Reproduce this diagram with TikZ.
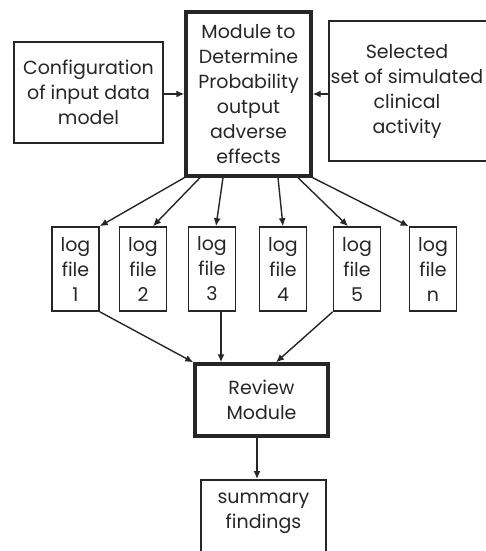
\documentclass[tikz,border=0pt]{standalone}
\usepackage{fontspec}
\setmainfont{Poppins}
\usetikzlibrary{arrows.meta}
\begin{document}
\begin{tikzpicture}[x=1pt,y=-1pt,
  every node/.style={font=\fontsize{19}{25}\selectfont, text=black!85},
  box/.style={draw=black!85, line width=1.6pt, align=center, inner sep=0pt},
  heavybox/.style={box, line width=3.4pt},
  logbox/.style={box, minimum width=47pt, minimum height=84pt},
  arr/.style={draw=black!85, line width=1.4pt, -{Latex[length=8pt,width=7pt]}}]
\useasboundingbox (0,0) rectangle (486,551);
\clip (0,0) rectangle (486,551);

% input and process boxes
\node[heavybox, minimum width=125pt, minimum height=164pt] (main) at (248.5,94)
  {Module to\\Determine\\Probability\\output\\adverse\\effects};
\node[box, minimum width=149pt, minimum height=101pt] (cfg) at (88.5,92.5)
  {Configuration\\of input data\\model};
\node[box, minimum width=170pt, minimum height=140pt] (sel) at (414,91) {};
\node[align=center, inner sep=0pt] (seltext) at (407,91)
  {Selected\\set of simulated\\clinical\\activity};

% log files
\node[logbox] (log1) at (75.5,269) {log\\file\\1};
\node[logbox] (log2) at (143,269) {log\\file\\2};
\node[logbox] (log3) at (212,269) {log\\file\\3};
\node[logbox] (log4) at (283,269) {log\\file\\4};
\node[logbox] (log5) at (357,269) {log\\file\\5};
\node[logbox] (logn) at (433,269) {log\\file\\n};

% review and summary
\node[heavybox, minimum width=133pt, minimum height=72pt] (review) at (261.5,400)
  {Review\\Module};
\node[box, minimum width=125pt, minimum height=100pt, anchor=north] (summary) at (263.5,479) {};
\node[align=center, inner sep=0pt] (summarytext) at (263.5,513) {summary\\findings};

% connectors
\draw[arr] (cfg.east |- main.west) -- (main.west);
\draw[arr] (sel.west |- main.east) -- (main.east);

\draw[arr] (main.south west) -- (log1.north east);
\draw[arr] ([xshift=-48.5pt]main.south) -- ([xshift=10pt]log2.north);
\draw[arr] ([xshift=-25.5pt]main.south) -- ([xshift=4pt]log3.north);
\draw[arr] ([xshift=29.5pt]main.south) -- (log4.north);
\draw[arr] ([xshift=49.5pt]main.south) -- ([xshift=-9pt]log5.north);
\draw[arr] (main.south east) -- (logn.north west);

\draw[arr] (log1.south east) -- (review.north west);
\draw[arr] ([xshift=9pt]log3.south) -- ([xshift=9pt]log3.south |- review.north);
\draw[arr] (log5.south west) -- ([xshift=14.5pt]review.north);

\draw[arr] ([xshift=-4.5pt]review.south) -- ([xshift=-4.5pt]review.south |- summary.north);
\end{tikzpicture}
\end{document}
